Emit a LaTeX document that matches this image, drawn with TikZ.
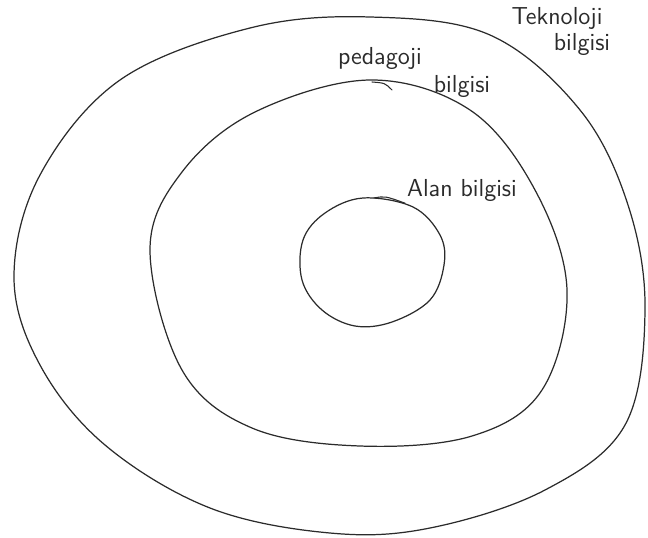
\documentclass[tikz,border=0pt]{standalone}
\usepackage{tikz}
\usetikzlibrary{positioning}
\definecolor{pencil}{HTML}{2B2B2B}

\begin{document}
\begin{tikzpicture}[
    x=0.02cm, y=-0.02cm,
    ring/.style={draw=pencil, line width=0.7pt, line join=round},
    label/.style={font=\sffamily\fontsize{14}{15}\selectfont, text=pencil, inner sep=1pt},
    tick/.style={draw=pencil, line width=0.6pt, line cap=round}
]
    \useasboundingbox (0,0) rectangle (648,537);

    % Teknoloji bilgisi (dis halka)
    \draw[ring] plot[smooth cycle, tension=0.6] coordinates {
        (14,277) (40,175) (120,80) (250,28) (370,17) (490,35) (580,110)
        (628,205) (645,310) (625,425) (545,490) (430,528) (330,533)
        (210,508) (105,445) (40,365)};

    % Pedagoji bilgisi (orta halka)
    \draw[ring] plot[smooth cycle, tension=0.6] coordinates {
        (150,250) (182,172) (255,112) (370,80) (470,110) (535,190)
        (567,290) (542,390) (472,436) (360,446) (252,428) (182,370)};

    % Alan bilgisi (ic halka)
    \draw[ring] plot[smooth cycle, tension=0.6] coordinates {
        (363,198) (413,207) (440,235) (444,265) (430,300) (392,322)
        (355,326) (322,310) (302,280) (303,240) (325,213)};

    % Etiketler
    \node[label] (tek) at (557,18) {Teknoloji};
    \node[label] (tekb) at (582,44) {bilgisi};
    \node[label] (ped) at (380,58) {pedagoji};
    \node[label] (pedb) at (462,86) {bilgisi};
    \node[label] (alan) at (462,190) {Alan bilgisi};

    % Kucuk isaretler
    \coordinate (alanuc) at (374,198);
    \coordinate (peduc) at (372,82);
    \coordinate (pedson) at (392,90);
    \draw[tick] (alanuc) .. controls (385,196) .. (alan.south west);
    \draw[tick] (peduc) .. controls (385,83) .. (pedson);
\end{tikzpicture}
\end{document}
